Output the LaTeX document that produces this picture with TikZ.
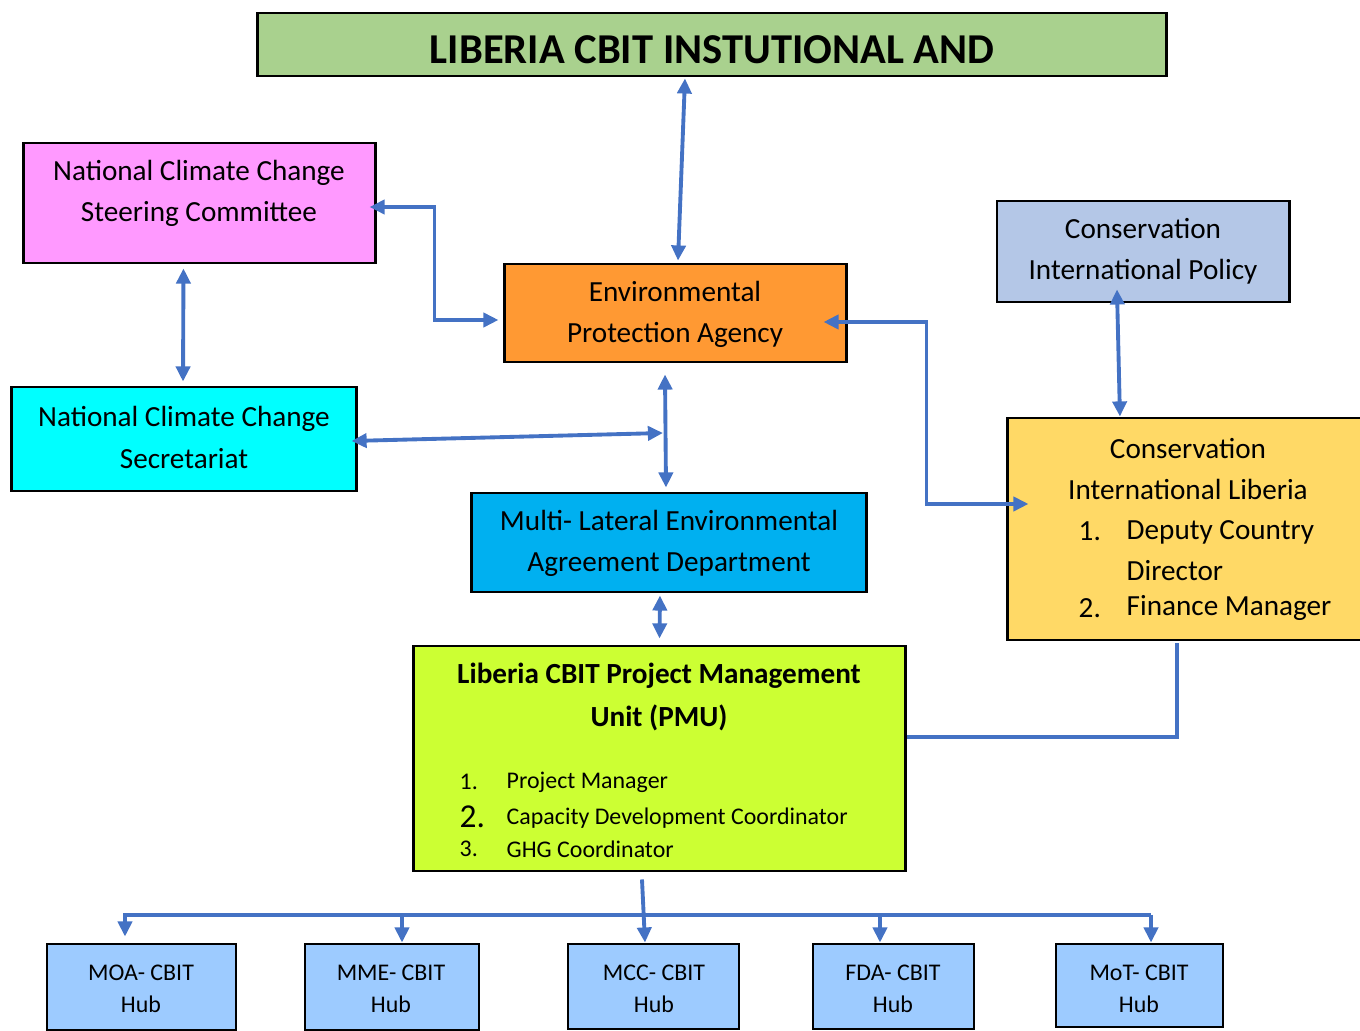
\documentclass[tikz,border=0pt]{standalone}
\usepackage{xcolor}
\usepackage{fontspec}
\setmainfont{Carlito}
\usetikzlibrary{arrows.meta}

\definecolor{titlegreen}{HTML}{A9D18E}
\definecolor{steerpink}{HTML}{FF99FF}
\definecolor{secrcyan}{HTML}{00FFFF}
\definecolor{epaorange}{HTML}{FF9933}
\definecolor{cipblue}{HTML}{B4C7E7}
\definecolor{cilyellow}{HTML}{FFD966}
\definecolor{meablue}{HTML}{00B0F0}
\definecolor{pmulime}{HTML}{CCFF33}
\definecolor{hubblue}{HTML}{9DCBFF}
\definecolor{linkblue}{HTML}{4472C4}

\begin{document}
\begin{tikzpicture}[x=0.01cm, y=-0.01cm,
    >={Triangle[length=4.3pt,width=4pt]},
    box/.style={draw=black, line width=0.8pt, inner sep=0pt},
    txt/.style={inner sep=0pt, align=center, font=\fontsize{8.3}{11.7}\selectfont},
    small/.style={inner sep=0pt, align=center, font=\fontsize{6.8}{9.1}\selectfont},
    wire/.style={draw=linkblue, line width=1.1pt}]
      \useasboundingbox (0,0) rectangle (1360,1031);
      % \draw[help lines, gray!50, very thin] (0,0) grid[step=100] (1360,1031);

      % boxes
      \node[box, fill=titlegreen, minimum width=90.8mm, minimum height=6.3mm] (title) at (712,44.5) {};
      \node[txt, font=\bfseries\fontsize{12.1}{14}\selectfont] (title-t) at (712,50) {LIBERIA CBIT INSTUTIONAL AND};

      \node[box, fill=steerpink, minimum width=35.1mm, minimum height=12mm] (steer) at (199.5,203) {};
      \node[txt] (steer-t) at (199,193.5) {National Climate Change\\Steering Committee};

      \node[box, fill=secrcyan, minimum width=34.4mm, minimum height=10.4mm] (secr) at (184,439) {};
      \node[txt] (secr-t) at (184,437.5) {National Climate Change\\Secretariat};

      \node[box, fill=epaorange, minimum width=34.1mm, minimum height=9.8mm] (epa) at (675.5,313) {};
      \node[txt] (epa-t) at (675,314) {Environmental\\Protection Agency};

      \node[box, fill=cipblue, minimum width=29.2mm, minimum height=10.1mm] (cip) at (1143,251.5) {};
      \node[txt] (cip-t) at (1143,251) {Conservation\\International Policy};

      \node[box, fill=cilyellow, minimum width=36mm, minimum height=22.2mm] (cil) at (1188,529) {};
      \node[txt] (cil-t) at (1188,469) {Conservation\\International Liberia};
      \node[txt, anchor=west] (cil-n1) at (1078,531) {1.};
      \node[txt, anchor=west, align=left] (cil-i1) at (1126,550.5) {Deputy Country\\Director};
      \node[txt, anchor=west] (cil-n2) at (1078,608) {2.};
      \node[txt, anchor=west] (cil-i2) at (1126,608) {Finance Manager};

      \node[box, fill=meablue, minimum width=39.4mm, minimum height=9.9mm] (mea) at (669,542.5) {};
      \node[txt] (mea-t) at (669,543.5) {Multi- Lateral Environmental\\Agreement Department};

      \node[box, fill=pmulime, minimum width=49.1mm, minimum height=22.5mm] (pmu) at (659.5,758.5) {};
      \node[txt, font=\bfseries\fontsize{8.3}{12}\selectfont] (pmu-t) at (659,697) {Liberia CBIT Project Management\\Unit (PMU)};
      \node[small, anchor=west] (pmu-n1) at (459,782) {1.};
      \node[small, anchor=west] (pmu-i1) at (506,782) {Project Manager};
      \node[txt, anchor=west, font=\fontsize{9.5}{11}\selectfont] (pmu-n2) at (459,817) {2.};
      \node[small, anchor=west] (pmu-i2) at (506,818) {Capacity Development Coordinator};
      \node[small, anchor=west] (pmu-n3) at (459,849) {3.};
      \node[small, anchor=west] (pmu-i3) at (506,849) {GHG Coordinator};

      \node[box, fill=hubblue, minimum width=18.9mm, minimum height=8.6mm] (moa) at (141.5,987) {};
      \node[small] (moa-t) at (141,989) {MOA- CBIT\\Hub};
      \node[box, fill=hubblue, minimum width=17.4mm, minimum height=8.6mm] (mme) at (392,987) {};
      \node[small] (mme-t) at (391,989) {MME- CBIT\\Hub};
      \node[box, fill=hubblue, minimum width=17.1mm, minimum height=8.5mm] (mcc) at (653.5,986.5) {};
      \node[small] (mcc-t) at (654,989) {MCC- CBIT\\Hub};
      \node[box, fill=hubblue, minimum width=16.1mm, minimum height=8.5mm] (fda) at (893.5,986.5) {};
      \node[small] (fda-t) at (893,989) {FDA- CBIT\\Hub};
      \node[box, fill=hubblue, minimum width=16.7mm, minimum height=8.3mm] (mot) at (1139.5,985.5) {};
      \node[small] (mot-t) at (1139,989) {MoT- CBIT\\Hub};

      % links
      \coordinate (junc) at (663,433);
      \coordinate (busL) at (123,915);
      \coordinate (busR) at (1151,915);

      \draw[wire, <->] ([xshift=-2.7mm,yshift=-0.1mm]title.south) -- ([xshift=0.25mm,yshift=0.2mm]epa.north);
      \draw[wire, <->] ([xshift=-0.7mm,yshift=-0.4mm]steer.east) -- ++(65,0) |- ([xshift=-0.5mm,yshift=-0.7mm]epa.west);
      \draw[wire, <->] ([xshift=-1.6mm,yshift=-0.4mm]steer.south) -- ([xshift=-0.1mm,yshift=0.4mm]secr.north);
      \draw[wire, <->] ([xshift=-0.6mm,yshift=-0.2mm]secr.east) -- (junc);
      \draw[wire, <->] ([xshift=-1.05mm,yshift=-1.1mm]epa.south) -- ([xshift=-0.3mm,yshift=0.4mm]mea.north);
      \draw[wire, <->] ([xshift=-2.4mm,yshift=-0.9mm]epa.east) -- ++(103,0) |- ([xshift=2.2mm,yshift=2.5mm]cil.west);
      \draw[wire, <->] ([xshift=-2.6mm,yshift=1.4mm]cip.south) -- ([xshift=-6.8mm]cil.north);
      \draw[wire, <->] ([xshift=-0.9mm,yshift=-0.2mm]mea.south) -- ([yshift=0.6mm]pmu.north);
      \draw[wire] ([yshift=2.15mm]pmu.east) -| ([xshift=-1.1mm,yshift=-0.2mm]cil.south);

      \draw[wire, ->] ([xshift=-1.75mm,yshift=-0.7mm]pmu.south) -- ([xshift=-0.85mm]mcc.north);
      \draw[wire] (busL) -- (busR);
      \draw[wire, ->] ([xshift=-1.65mm]moa.north |- busL) -- ([xshift=-1.65mm,yshift=0.6mm]moa.north);
      \draw[wire, ->] ([xshift=1mm]mme.north |- busL) -- ([xshift=1mm]mme.north);
      \draw[wire, ->] ([xshift=-1.35mm]fda.north |- busL) -- ([xshift=-1.35mm]fda.north);
      \draw[wire, ->] ([xshift=1.15mm]mot.north |- busR) -- ([xshift=1.15mm]mot.north);
\end{tikzpicture}
\end{document}
